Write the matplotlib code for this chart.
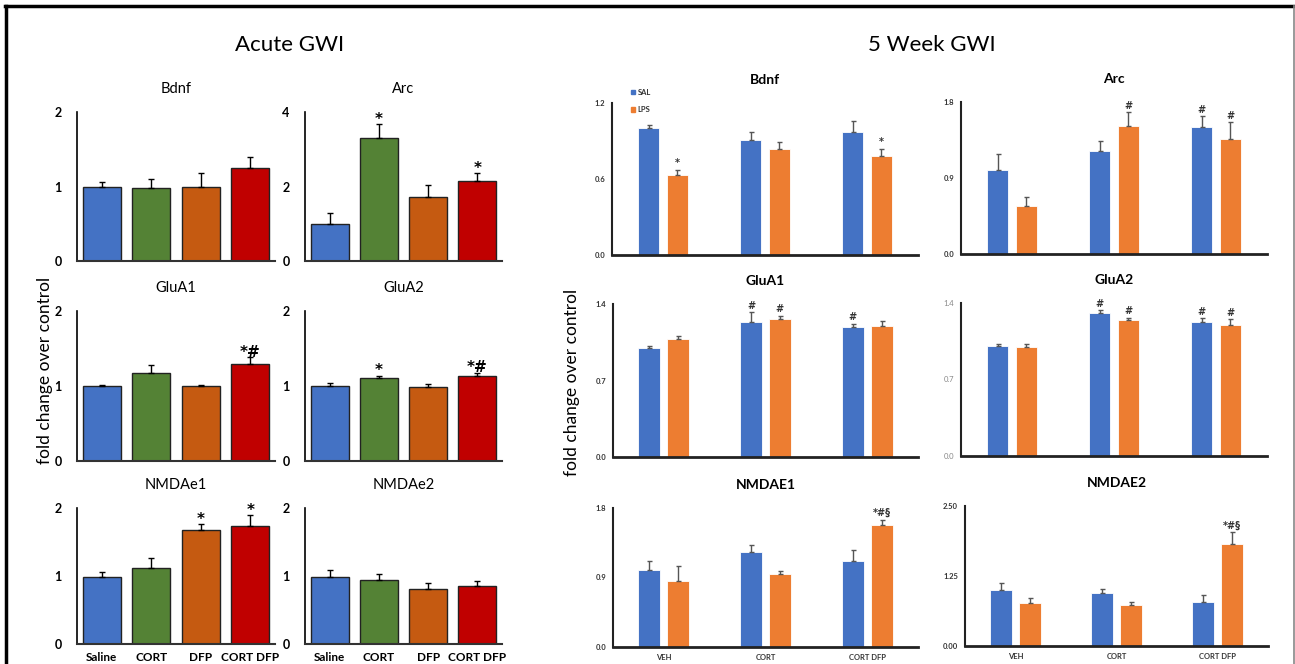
import numpy as np
import matplotlib
matplotlib.use("Agg")
import matplotlib.pyplot as plt
from matplotlib.lines import Line2D
from matplotlib.patches import Patch

plt.rcParams['font.family'] = ['Lato', 'DejaVu Sans']

W, H = 1295, 664

# ---- Acute GWI data (fold change, upper SEM) ----
acute_groups = ['Saline', 'CORT', 'DFP', 'CORT DFP']
acute_colors = ['#4472C4', '#548235', '#C55A11', '#C00000']

bdnf_a = [1.00, 0.98, 1.00, 1.25]
bdnf_a_err = [0.06, 0.12, 0.18, 0.14]
arc_a = [1.00, 3.31, 1.73, 2.14]
arc_a_err = [0.30, 0.36, 0.32, 0.21]
glua1_a = [1.00, 1.18, 1.00, 1.30]
glua1_a_err = [0.02, 0.10, 0.01, 0.09]
glua2_a = [1.00, 1.11, 0.99, 1.14]
glua2_a_err = [0.04, 0.03, 0.04, 0.04]
nmda1_a = [0.99, 1.12, 1.67, 1.74]
nmda1_a_err = [0.07, 0.14, 0.09, 0.16]
nmda2_a = [0.99, 0.94, 0.81, 0.85]
nmda2_a_err = [0.10, 0.09, 0.08, 0.07]

arc_a_sig = ['', '*', '', '*']
glua1_a_sig = ['', '', '', '*#']
glua2_a_sig = ['', '*', '', '*#']
nmda1_a_sig = ['', '', '*', '*']

# ---- 5 Week GWI data: SAL vs LPS ----
week_groups = ['VEH', 'CORT', 'CORT DFP']
sal_color, lps_color = '#4472C4', '#ED7D31'

bdnf_sal = [1.00, 0.91, 0.97]
bdnf_sal_err = [0.03, 0.06, 0.09]
bdnf_lps = [0.63, 0.84, 0.78]
bdnf_lps_err = [0.045, 0.055, 0.06]
arc_sal = [1.00, 1.225, 1.50]
arc_sal_err = [0.19, 0.115, 0.13]
arc_lps = [0.57, 1.52, 1.36]
arc_lps_err = [0.10, 0.16, 0.20]
glua1_sal = [1.00, 1.235, 1.19]
glua1_sal_err = [0.017, 0.088, 0.03]
glua1_lps = [1.078, 1.265, 1.195]
glua1_lps_err = [0.028, 0.028, 0.046]
glua2_sal = [1.005, 1.311, 1.228]
glua2_sal_err = [0.021, 0.025, 0.034]
glua2_lps = [0.993, 1.244, 1.20]
glua2_lps_err = [0.036, 0.021, 0.053]
nmda1_sal = [1.00, 1.23, 1.12]
nmda1_sal_err = [0.12, 0.09, 0.14]
nmda1_lps = [0.855, 0.95, 1.58]
nmda1_lps_err = [0.19, 0.04, 0.07]
nmda2_sal = [1.00, 0.94, 0.786]
nmda2_sal_err = [0.12, 0.07, 0.124]
nmda2_lps = [0.76, 0.74, 1.83]
nmda2_lps_err = [0.10, 0.05, 0.21]

bdnf_sig = (['', '', ''], ['*', '', '*'])
arc_sig = (['', '', '#'], ['', '#', '#'])
glua1_sig = (['', '#', '#'], ['', '#', ''])
glua2_sig = (['', '#', '#'], ['', '#', '#'])
nmda1_sig = (['', '', ''], ['', '', '*#§'])
nmda2_sig = (['', '', ''], ['', '', '*#§'])

MARK_FONT = ['DejaVu Sans']


def px_axes(fig, left, top, right, bottom):
    return fig.add_axes([left / W, 1 - bottom / H, (right - left) / W, (bottom - top) / H])


def acute_panel(ax, title, vals, errs, ymax, sig=None, xlabels=False):
    x = np.arange(len(vals))
    ax.bar(x, vals, width=0.77, color=acute_colors, edgecolor='#222222', linewidth=1.0, zorder=2)
    ax.errorbar(x, vals, yerr=[np.zeros(len(errs)), errs], fmt='none', ecolor='black',
                elinewidth=1.0, capsize=2.5, capthick=1.0, zorder=3)
    ax.set_xlim(-0.5, 3.5)
    ax.set_ylim(0, ymax)
    ax.set_yticks([0, ymax / 2, ymax])
    ax.set_yticklabels(['0', str(int(ymax / 2)), str(int(ymax))], fontweight='bold', fontsize=9)
    ax.tick_params(axis='y', length=0, pad=11)
    ax.tick_params(axis='x', length=0, pad=6)
    if xlabels:
        ax.set_xticks(x)
        ax.set_xticklabels(acute_groups, fontweight='bold', fontsize=8.5)
    else:
        ax.set_xticks([])
    for s in ['top', 'right']:
        ax.spines[s].set_visible(False)
    ax.spines['left'].set_linewidth(1.2)
    ax.spines['bottom'].set_linewidth(1.5)
    ax.spines['bottom'].set_color('#333333')
    ax.set_title(title, fontsize=10.5, pad=14)
    if sig:
        for i, s in enumerate(sig):
            if s:
                ax.annotate(s, (x[i], vals[i] + errs[i]), xytext=(0, -2), textcoords='offset points',
                            ha='center', va='bottom', fontsize=11, fontweight='bold', family=MARK_FONT)


def week_panel(ax, title, sal, sal_err, lps, lps_err, ticks, ticklabels, sig, xlabels=False,
               tickcolor='#333333', tickweight='bold'):
    x = np.arange(len(sal))
    off, w = 0.142, 0.215
    for vals, errs, col, xs, marks in [(sal, sal_err, sal_color, x - off, sig[0]),
                                       (lps, lps_err, lps_color, x + off, sig[1])]:
        ax.bar(xs, vals, width=w, color=col, edgecolor='white', linewidth=0.6, zorder=2)
        ax.errorbar(xs, vals, yerr=[np.zeros(len(errs)), errs], fmt='none', ecolor='#555555',
                    elinewidth=1.0, capsize=1.8, capthick=1.0, zorder=3)
        for i, s in enumerate(marks):
            if s:
                ax.annotate(s, (xs[i], vals[i] + errs[i]), xytext=(0, 1), textcoords='offset points',
                            ha='center', va='bottom', fontsize=7, fontweight='bold', color='#333333',
                            family=MARK_FONT)
    ax.set_xlim(-0.5, 2.5)
    ax.set_ylim(0, ticks[-1])
    ax.set_yticks(ticks)
    ax.set_yticklabels(ticklabels, fontsize=5.5, fontweight=tickweight, color=tickcolor)
    ax.tick_params(axis='y', length=0, pad=5)
    ax.tick_params(axis='x', length=0, pad=5)
    if xlabels:
        ax.set_xticks(x)
        ax.set_xticklabels(week_groups, fontsize=5.5, fontweight='bold', color='#333333')
    else:
        ax.set_xticks([])
    for s in ['top', 'right']:
        ax.spines[s].set_visible(False)
    ax.spines['left'].set_linewidth(1.5)
    ax.spines['bottom'].set_linewidth(2.0)
    ax.spines['left'].set_color('#222222')
    ax.spines['bottom'].set_color('#222222')
    ax.set_title(title, fontsize=10, fontweight='bold', pad=14)


fig = plt.figure(figsize=(W / 100, H / 100), dpi=100)

# acute panels
acute_panel(px_axes(fig, 77, 112, 275, 261), 'Bdnf', bdnf_a, bdnf_a_err, 2)
acute_panel(px_axes(fig, 305, 112, 502, 261), 'Arc', arc_a, arc_a_err, 4, arc_a_sig)
acute_panel(px_axes(fig, 77, 311, 275, 461), 'GluA1', glua1_a, glua1_a_err, 2, glua1_a_sig)
acute_panel(px_axes(fig, 305, 311, 502, 461), 'GluA2', glua2_a, glua2_a_err, 2, glua2_a_sig)
acute_panel(px_axes(fig, 77, 508, 275, 644), 'NMDAe1', nmda1_a, nmda1_a_err, 2, nmda1_a_sig, xlabels=True)
acute_panel(px_axes(fig, 305, 508, 502, 644), 'NMDAe2', nmda2_a, nmda2_a_err, 2, None, xlabels=True)

# 5 week panels
week_panel(px_axes(fig, 612, 103, 918, 255), 'Bdnf', bdnf_sal, bdnf_sal_err, bdnf_lps, bdnf_lps_err,
           [0, 0.6, 1.2], ['0.0', '0.6', '1.2'], bdnf_sig)
week_panel(px_axes(fig, 961, 102, 1267, 254), 'Arc', arc_sal, arc_sal_err, arc_lps, arc_lps_err,
           [0, 0.9, 1.8], ['0.0', '0.9', '1.8'], arc_sig)
week_panel(px_axes(fig, 613, 304, 918, 457), 'GluA1', glua1_sal, glua1_sal_err, glua1_lps, glua1_lps_err,
           [0, 0.7, 1.4], ['0.0', '0.7', '1.4'], glua1_sig)
week_panel(px_axes(fig, 961, 303, 1267, 456), 'GluA2', glua2_sal, glua2_sal_err, glua2_lps, glua2_lps_err,
           [0, 0.7, 1.4], ['0.0', '0.7', '1.4'], glua2_sig, tickcolor='#888888', tickweight='normal')
week_panel(px_axes(fig, 613, 508, 918, 647), 'NMDAE1', nmda1_sal, nmda1_sal_err, nmda1_lps, nmda1_lps_err,
           [0, 0.9, 1.8], ['0.0', '0.9', '1.8'], nmda1_sig, xlabels=True)
week_panel(px_axes(fig, 965, 506, 1268, 646), 'NMDAE2', nmda2_sal, nmda2_sal_err, nmda2_lps, nmda2_lps_err,
           [0, 1.25, 2.5], ['0.00', '1.25', '2.50'], nmda2_sig, xlabels=True)

handles = [Patch(color=sal_color, label='SAL'), Patch(color=lps_color, label='LPS')]
fig.legend(handles=handles, loc='center left', bbox_to_anchor=(624 / W, 1 - 101 / H),
           frameon=False, prop={'size': 5.5, 'weight': 'bold'}, handlelength=0.6, handleheight=0.6,
           handletextpad=0.3, labelspacing=1.4, labelcolor='#333333')

# headers and axis labels
fig.text(290 / W, 1 - 45 / H, 'Acute GWI', ha='center', va='center', fontsize=16)
fig.text(932 / W, 1 - 45 / H, '5 Week GWI', ha='center', va='center', fontsize=16)
fig.text(45 / W, 1 - 370 / H, 'fold change over control', rotation=90, ha='center', va='center', fontsize=12.5)
fig.text(572 / W, 1 - 382 / H, 'fold change over control', rotation=90, ha='center', va='center', fontsize=12.5)

# outer frame
fig.add_artist(Line2D([5 / W, 1], [1 - 6 / H, 1 - 6 / H], color='black', lw=2.5, transform=fig.transFigure))
fig.add_artist(Line2D([6 / W, 6 / W], [0, 1 - 6 / H], color='black', lw=2.5, transform=fig.transFigure))
fig.add_artist(Line2D([1294 / W, 1294 / W], [0, 1 - 6 / H], color='#888888', lw=1.2, transform=fig.transFigure))

fig.savefig('out.png', dpi=100)
